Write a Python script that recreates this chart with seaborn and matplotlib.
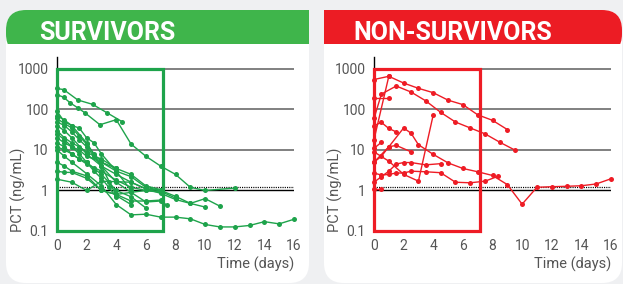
import numpy as np
import pandas as pd
import seaborn as sns
import matplotlib.pyplot as plt
from matplotlib.patches import Rectangle, FancyBboxPatch
from matplotlib.ticker import FixedLocator, FixedFormatter, LogLocator, NullFormatter

# --- data (day, PCT ng/mL) per patient ---
surv_days = [
    [0, 0.45, 1.4, 2.4, 3.4, 4.4],
    [0, 0.45, 0.9, 1.45, 1.9, 2.9, 4, 5, 6, 7, 8, 9, 10, 12],
    [0, 0.5, 1, 2, 3, 4, 5, 6, 7, 8, 9, 10, 11, 12, 13, 14, 15, 16],
    [0, 0.5, 1, 1.5, 2, 2.5, 3, 4, 5, 6, 7, 8, 9, 10, 11],
    [0, 0.5, 1, 2, 3, 4, 5, 6, 7, 8, 9, 10],
    [0, 0.5, 1, 1.5, 2, 2.5, 3, 4, 5, 6, 7, 7.4],
    [0, 0.5, 1, 1.5, 2, 2.5, 3, 3.5, 4, 5, 6],
    [0, 0.5, 1, 2, 3, 4, 5],
    [0, 1, 2, 3, 5, 6, 7],
    [0, 0.5, 1, 1.5, 2, 3, 4, 5, 6, 7, 8],
    [0, 0.5, 1, 2, 3, 4, 5, 6, 7],
    [0, 0.5, 1, 1.5, 2, 2.5, 3, 4, 5],
    [0, 0.5, 1, 1.5, 2, 2.5, 3, 3.5, 4],
    [0, 0.5, 1, 2, 3, 4, 5, 6, 7],
    [0, 0.5, 1, 1.5, 2, 2.5, 3, 4],
    [0, 0.5, 1, 1.5, 2, 3, 4, 5, 6, 7],
]
surv_pct = [
    [330, 310, 172, 134, 82, 50],
    [233, 200, 145, 107, 82, 42, 56, 14, 7, 4, 2.5, 1.2, 1.0, 1.15],
    [10, 7, 5, 2.6, 1.3, 0.45, 0.25, 0.26, 0.22, 0.22, 0.2, 0.145, 0.126, 0.126, 0.137, 0.17, 0.15, 0.195],
    [60, 45, 35, 22, 14, 8, 5, 3, 2.2, 1.2, 1.0, 0.72, 0.48, 0.63, 0.41],
    [40, 30, 20, 8, 4, 2.5, 1.6, 1.1, 0.85, 0.6, 0.48, 0.39],
    [50, 40, 28, 18, 12, 7, 4, 1.6, 0.9, 0.52, 0.55, 0.44],
    [25, 18, 12, 8, 5, 3.5, 2.5, 1.6, 1.0, 0.7, 0.37],
    [70, 55, 40, 15, 4, 0.75, 0.45],
    [1.9, 1.6, 1.0, 1.7, 1.6, 1.1, 1.0],
    [15, 12, 8, 6, 4.5, 3, 1.8, 1.2, 1.0, 0.95, 0.65],
    [5, 4, 3, 2.3, 1.0, 0.8, 0.55, 0.55, 0.58],
    [90, 50, 40, 35, 20, 15, 8, 3, 1.0],
    [12, 10, 8, 6, 5, 3, 2, 1.2, 0.7],
    [3, 2.8, 2.8, 2.0, 1.0, 0.8, 0.9, 1.0, 0.9],
    [30, 20, 15, 12, 9, 7, 6, 3.5],
    [20, 15, 12, 10, 7, 5, 3.5, 2.5, 1.3, 1.05],
]

nonsurv_days = [
    [0, 1, 2, 3, 4, 5, 6, 7, 8, 9],
    [0, 0.5, 1.5, 2.5, 3.5, 4.5, 5.5, 6.5, 7.5, 8.5, 9.5],
    [0, 1],
    [0, 1],
    [0, 1, 2, 3, 4],
    [0, 1, 2, 2.5, 3, 4, 5, 6, 7, 8, 9, 10, 11, 12, 13, 14, 15, 16],
    [0, 0.5, 1, 1.5],
    [0, 0.5],
    [0, 0.5],
    [0, 0.5, 1, 1.5, 2, 2.5, 3.5, 4.5],
    [0, 0.5, 1, 1.5, 2, 2.5, 3.5, 4.5, 5.5, 6.5, 7.5, 8.4],
    [0, 0.5, 1, 1.5, 2.5],
]
nonsurv_pct = [
    [550, 660, 450, 333, 260, 170, 132, 74, 54, 32],
    [60, 240, 380, 270, 163, 85, 49, 35, 25, 15.5, 10],
    [18, 660],
    [190, 190],
    [9, 5.3, 2.5, 1.7, 74],
    [5, 12, 35, 26, 13.5, 7.8, 4.8, 3.5, 2.9, 2.35, 1.4, 0.46, 1.2, 1.24, 1.27, 1.31, 1.45, 1.95],
    [40, 48, 34, 28],
    [1.1, 1.1],
    [11, 15.5],
    [1.6, 2.2, 3, 4.5, 4.9, 4.9, 4.3, 4.6],
    [2.7, 2.4, 2.5, 2.7, 2.7, 3.0, 2.9, 2.75, 1.6, 1.55, 1.7, 2.26],
    [5, 7, 12, 13, 9],
]

titles = ["SURVIVORS", "NON-SURVIVORS"]
y_ticks = [0.1, 1, 10, 100, 1000]
y_ticklabels = ["0.1", "1", "10", "100", "1000"]
x_ticks = [0, 2, 4, 6, 8, 10, 12, 14, 16]

GREEN = "#1ea34b"
GREEN_HEAD = "#3fb54b"
RED = "#ee1c25"
RED_HEAD = "#ec1c24"
BG = "#eff0f2"
TXT = "#555555"


def to_long(days, pct):
    rows = []
    for pid, (d, p) in enumerate(zip(days, pct)):
        for t, v in zip(d, p):
            rows.append((pid, t, v))
    return pd.DataFrame(rows, columns=["patient", "day", "pct"])


def draw_panel(ax, df, color):
    ax.set_yscale("log")
    ax.set_xlim(0, 16)
    ax.set_ylim(0.1, 1978)

    # reference lines
    for y in [10, 100, 1000]:
        ax.axhline(y, color="#6b6b6b", lw=1.2, zorder=1)
    ax.axhline(1, color="black", lw=1.0, zorder=1)
    ax.axhline(1.19, color="black", lw=0.9, ls=(0, (0.9, 0.9)), zorder=1)

    sns.lineplot(data=df, x="day", y="pct", units="patient", estimator=None,
                 sort=False, color=color, lw=1.0, marker="o", markersize=3.6,
                 markeredgewidth=0, ax=ax, zorder=3, clip_on=False)

    # first-week box
    ax.add_patch(Rectangle((0, 0.1), 7.15, 1000 - 0.1, fill=False,
                           edgecolor=color, lw=2.3, zorder=4, clip_on=False))

    for s in ["top", "right", "bottom"]:
        ax.spines[s].set_visible(False)
    ax.spines["left"].set_color("black")
    ax.spines["left"].set_linewidth(1.0)
    ax.set_facecolor("none")

    ax.yaxis.set_major_locator(FixedLocator(y_ticks))
    ax.yaxis.set_major_formatter(FixedFormatter(y_ticklabels))
    ax.yaxis.set_minor_locator(LogLocator(base=10, subs=np.arange(2, 10)))
    ax.yaxis.set_minor_formatter(NullFormatter())
    ax.set_xticks(x_ticks)
    ax.tick_params(axis="y", which="major", length=4, width=1, color="black",
                   pad=2, labelsize=10, labelcolor=TXT)
    ax.tick_params(axis="y", which="minor", length=2.5, width=0.8, color="black")
    ax.tick_params(axis="x", length=3.5, width=1, color="black", pad=2,
                   labelsize=10, labelcolor=TXT)

    ax.set_xlabel("Time (days)", loc="right", fontsize=10.5, color=TXT, labelpad=3)
    ax.set_ylabel("")


sns.set_theme(style="white")
plt.rcParams["font.family"] = ["Roboto", "DejaVu Sans"]

fig = plt.figure(figsize=(6.23, 2.84), dpi=100)
fig.patch.set_facecolor(BG)

# background cards in pixel coordinates
bg = fig.add_axes([0, 0, 1, 1], zorder=0)
bg.set_xlim(0, 623)
bg.set_ylim(284, 0)
bg.axis("off")

cards = [(6, 309, GREEN_HEAD, "left"), (324, 622, RED_HEAD, "right")]
for x0, x1, hcol, side in cards:
    r = 20
    bg.add_patch(FancyBboxPatch((x0 + r, 10 + r), x1 - x0 - 2 * r, 273 - 2 * r,
                                boxstyle=f"round,pad={r}", fc="white", ec="none"))
    bg.add_patch(FancyBboxPatch((x0 + r, 10 + r), x1 - x0 - 2 * r, 34 - 2 * r + 10,
                                boxstyle=f"round,pad={r}", fc=hcol, ec="none"))
    # white strip to cut the header bottom
    bg.add_patch(Rectangle((x0, 44), x1 - x0, 20, fc="white", ec="none"))
    # square off the non-rounded top corner
    if side == "left":
        bg.add_patch(Rectangle(((x0 + x1) / 2, 10), (x1 - x0) / 2, 34, fc=hcol, ec="none"))
    else:
        bg.add_patch(Rectangle((x0, 10), (x1 - x0) / 2, 34, fc=hcol, ec="none"))

bg.text(39, 39.5, titles[0], color="white", fontsize=18, fontweight="bold",
        va="baseline", ha="left")
bg.text(353, 39.5, titles[1], color="white", fontsize=18, fontweight="bold",
        va="baseline", ha="left")

# y labels, bottom-aligned with the 0.1 level
for xl in (18, 335):
    bg.text(xl, 232, "PCT (ng/mL)", rotation=90, ha="center", va="bottom",
            fontsize=10.5, color=TXT)

ax_l = fig.add_axes([57 / 623, 53 / 284, 237 / 623, 174 / 284], zorder=2)
ax_r = fig.add_axes([374 / 623, 53 / 284, 237 / 623, 174 / 284], zorder=2)

draw_panel(ax_l, to_long(surv_days, surv_pct), GREEN)
draw_panel(ax_r, to_long(nonsurv_days, nonsurv_pct), RED)

fig.savefig("out.png", dpi=100, facecolor=BG)
